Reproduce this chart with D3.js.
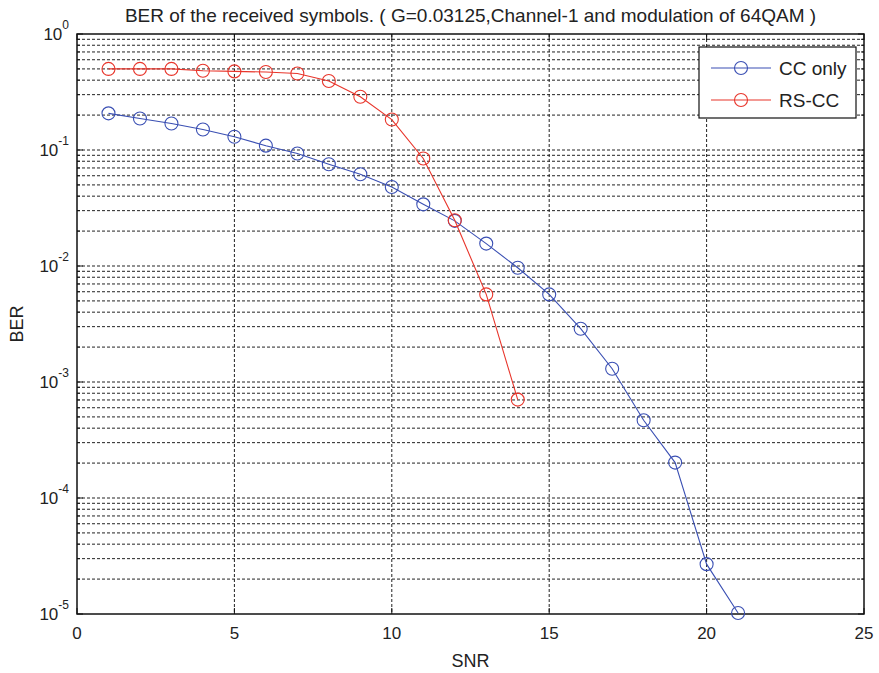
<!DOCTYPE html>
<html><head><meta charset="utf-8">
<script src="https://cdn.jsdelivr.net/npm/d3@7"></script>
<style>body{margin:0;background:#fff}svg{display:block}text{font-family:"Liberation Sans",Arial,sans-serif;fill:#222}</style>
</head><body>
<svg id="c" width="879" height="673"></svg>
<script>
const snr = [1,2,3,4,5,6,7,8,9,10,11,12,13,14,15,16,17,18,19,20,21];
const ccOnly = [0.207,0.187,0.169,0.150,0.130,0.109,0.0932,0.0754,0.0618,0.048,0.034,0.0245,0.0156,0.00966,0.00569,0.00288,0.0013,0.000468,0.000202,0.0000269,0.0000102];
const snrRS = [1,2,3,4,5,6,7,8,9,10,11,12,13,14];
const rsCC = [0.5,0.5,0.5,0.482,0.476,0.47,0.457,0.393,0.288,0.183,0.0845,0.0248,0.00569,0.000705];
const xTicks = [0,5,10,15,20,25];
const yExp = [0,-1,-2,-3,-4,-5];
const titleText = "BER of the received symbols. ( G=0.03125,Channel-1 and modulation of 64QAM )";
const seriesNames = ["CC only","RS-CC"];
const colors = ["#3a4fb3","#e8352b"];

const svg = d3.select("#c");
const L=77,R=864,T=34,B=614;
const x = d3.scaleLinear().domain([0,25]).range([L,R]);
const y = d3.scaleLog().domain([1e-5,1]).range([B,T]);

// grid
const g = svg.append("g");
xTicks.slice(1,-1).forEach(t=>{
  g.append("line").attr("x1",x(t)).attr("x2",x(t)).attr("y1",T).attr("y2",B)
   .attr("stroke","#222").attr("stroke-width",1).attr("stroke-dasharray","3,2");
});
const yMinor=[];
for(let e=-5;e<0;e++){for(let m=1;m<10;m++){yMinor.push(m*Math.pow(10,e));}}
yMinor.forEach(v=>{
  if(v<=1e-5*1.0001 ) return;
  g.append("line").attr("x1",L).attr("x2",R).attr("y1",y(v)).attr("y2",y(v))
   .attr("stroke","#222").attr("stroke-width",1).attr("stroke-dasharray","3,2");
});

// ticks
const tk = svg.append("g").attr("stroke","#111").attr("stroke-width",1);
xTicks.forEach(t=>{
  tk.append("line").attr("x1",x(t)).attr("x2",x(t)).attr("y1",B).attr("y2",B-6);
  tk.append("line").attr("x1",x(t)).attr("x2",x(t)).attr("y1",T).attr("y2",T+6);
});
yMinor.concat([1]).forEach(v=>{
  const major = Math.abs(Math.log10(v)-Math.round(Math.log10(v)))<1e-9;
  const len = major?6:3;
  tk.append("line").attr("x1",L).attr("x2",L+len).attr("y1",y(v)).attr("y2",y(v));
  tk.append("line").attr("x1",R).attr("x2",R-len).attr("y1",y(v)).attr("y2",y(v));
});

// frame
svg.append("rect").attr("x",L).attr("y",T).attr("width",R-L).attr("height",B-T)
  .attr("fill","none").attr("stroke","#111").attr("stroke-width",1.5);

// x tick labels
xTicks.forEach(t=>{
  svg.append("text").attr("x",x(t)).attr("y",B+25).attr("text-anchor","middle")
    .attr("font-size",17).text(t);
});
// y tick labels
yExp.forEach(e=>{
  const tx = svg.append("text").attr("x",L-8).attr("y",y(Math.pow(10,e))+6).attr("text-anchor","end").attr("font-size",17);
  tx.append("tspan").text("10");
  tx.append("tspan").attr("dy",-11).attr("font-size",12).text(String(e));
});

// axis labels & title
svg.append("text").attr("x",(L+R)/2).attr("y",667).attr("text-anchor","middle").attr("font-size",18).text("SNR");
svg.append("text").attr("transform",`translate(23,${(T+B)/2}) rotate(-90)`).attr("text-anchor","middle").attr("font-size",18).text("BER");
svg.append("text").attr("x",(L+R)/2).attr("y",22).attr("text-anchor","middle").attr("font-size",19).text(titleText);

// series
const data = [snr.map((s,i)=>[s,ccOnly[i]]), snrRS.map((s,i)=>[s,rsCC[i]])];
const line = d3.line().x(d=>x(d[0])).y(d=>y(d[1]));
data.forEach((d,k)=>{
  svg.append("path").attr("d",line(d)).attr("fill","none").attr("stroke",colors[k]).attr("stroke-width",1.1);
  svg.append("g").selectAll("circle").data(d).join("circle")
    .attr("cx",p=>x(p[0])).attr("cy",p=>y(p[1])).attr("r",6.5)
    .attr("fill","none").attr("stroke",colors[k]).attr("stroke-width",1.1);
});

// legend
const lg = svg.append("g");
lg.append("rect").attr("x",699).attr("y",47).attr("width",157).attr("height",71)
  .attr("fill","#fff").attr("stroke","#111").attr("stroke-width",1.2);
seriesNames.forEach((n,k)=>{
  const yy = 68+k*32;
  lg.append("line").attr("x1",711).attr("x2",771).attr("y1",yy).attr("y2",yy).attr("stroke",colors[k]).attr("stroke-width",1.1);
  lg.append("circle").attr("cx",741).attr("cy",yy).attr("r",6.5).attr("fill","none").attr("stroke",colors[k]).attr("stroke-width",1.1);
  lg.append("text").attr("x",779).attr("y",yy+7).attr("font-size",19).text(n);
});
</script>
</body></html>
